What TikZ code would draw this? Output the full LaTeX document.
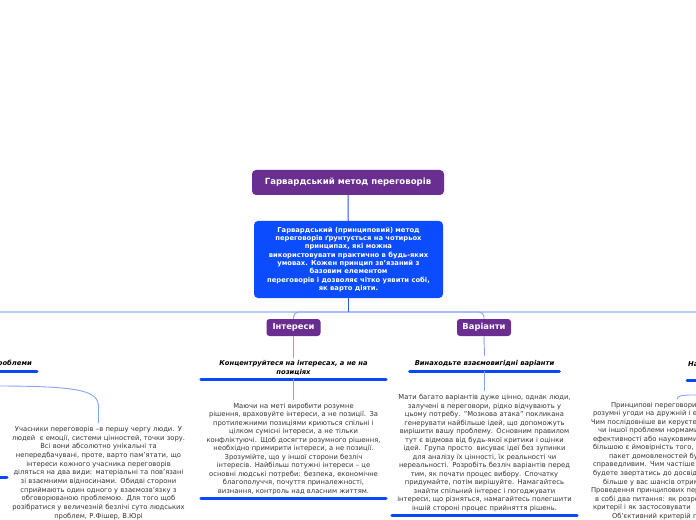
\documentclass[tikz,border=0pt]{standalone}
\usepackage{fontspec}
\setmainfont{DejaVu Sans}
\usetikzlibrary{calc}
\definecolor{purp}{HTML}{6A2D90}
\definecolor{boxblue}{HTML}{0B4CFF}
\definecolor{ulcol}{HTML}{0A48FF}
\definecolor{buscol}{HTML}{BACBFF}
\definecolor{conncol}{HTML}{86A3FF}
\definecolor{stemcol}{HTML}{2258FF}
\definecolor{bodycol}{HTML}{333333}
\tikzset{
  hdr/.style={fill=purp, rounded corners=4bp, text=white, font=\bfseries\fontsize{8.6}{10}\selectfont, minimum width=192bp, minimum height=25bp, inner sep=0},
  infobox/.style={fill=boxblue, rounded corners=4bp, text=white, font=\bfseries\fontsize{6.8}{8.3}\selectfont, align=center, minimum width=189bp, minimum height=77bp, inner sep=0},
  tag/.style={fill=purp, rounded corners=3bp, text=white, font=\bfseries\fontsize{8.4}{10}\selectfont, minimum width=54bp, minimum height=17bp, inner sep=0},
  lbl/.style={font=\bfseries\itshape\fontsize{6.8}{9}\selectfont, text=black, align=center},
  bodytxt/.style={font=\fontsize{6.8}{8.55}\selectfont, text=bodycol, inner xsep=0, inner ysep=3bp},
  uln/.style={draw=ulcol, line width=3bp, line cap=round},
  conn/.style={draw=conncol, line width=0.9bp},
  stem/.style={draw=stemcol, line width=1bp},
  busline/.style={draw=buscol, line width=1.6bp}
}
\begin{document}
\begin{tikzpicture}[x=1bp,y=-1bp]
\clip (0,0) rectangle (696,520);
% central nodes
\node[hdr] (t) at (348,182.5) {Гарвардський метод переговорів};
\node[infobox] (b) at (348.5,259.5) {Гарвардський (принциповий) метод\\переговорів ґрунтується на чотирьох\\принципах, які можна\\використовувати практично в будь-яких\\умовах. Кожен принцип зв'язаний з\\базовим елементом\\переговорів і дозволяє чітко уявити собі,\\як варто діяти.};
\draw[stem] (t) -- (b);
% bus
\coordinate (busL) at (-5,312);
\coordinate (busR) at (701,312);
\draw[busline] (busL) -- (busR);
\draw[stem] (b.south) -- (b.south |- busL);
% tags
\node[tag] (int) at (293.5,327.5) {Інтереси};
\node[tag] (var) at (484,327.5) {Варіанти};
\draw[conn, rounded corners=5bp] (b.south |- busL) -| (int.north);
\draw[conn, rounded corners=5bp] (b.south |- busL) -| (var.north);
% Interests branch
\node[lbl, text width=185bp, inner xsep=0, inner ysep=3bp, anchor=south] (intl) at (293.5,379) {Концентруйтеся на інтересах, а не на\\позиціях};
\draw[conn] (int.south) -- (intl.north);
\draw[uln] (intl.south west) -- (intl.south east);
\node[bodytxt, align=center, text width=185bp, anchor=south] (intb) at (293.5,498) {Маючи на меті виробити розумне\\рішення, враховуйте інтереси, а не позиції. За\\протилежними позиціями криються спільні і\\цілком сумісні інтереси, а не тільки\\конфліктуючі. Щоб досягти розумного рішення,\\необхідно примирити інтереси, а не позиції.\\Зрозумійте, що у іншої сторони безліч\\інтересів. Найбільш потужні інтереси – це\\основні людські потреби: безпека, економічне\\благополуччя, почуття приналежності,\\визнання, контроль над власним життям.};
\draw[conn] (intl.south) -- (intb.north);
\draw[uln] (intb.south west) -- (intb.south east);
% Options branch
\node[lbl, inner xsep=5bp, inner ysep=4bp, anchor=south] (varl) at (484.5,371) {Винаходьте взаємовигідні варіанти};
\draw[conn] (var.south) -- (varl.north);
\draw[uln] (varl.south west) -- (varl.south east);
\node[bodytxt, align=center, text width=185bp, anchor=south] (varb) at (484.5,515) {Мати багато варіантів дуже цінно, однак люди,\\залучені в переговори, рідко відчувають у\\цьому потребу. "Мозкова атака" покликана\\генерувати найбільше ідей, що допоможуть\\вирішити вашу проблему. Основним правилом\\тут є відмова від будь-якої критики і оцінки\\ідей. Група просто~ висуває ідеї без зупинки\\для аналізу їх цінності, їх реальності чи\\нереальності. Розробіть безліч варіантів перед\\тим, як почати процес вибору. Спочатку\\придумайте, потім вирішуйте. Намагайтесь\\знайти спільний інтерес і погоджувати\\інтереси, що різняться, намагайтесь полегшити\\іншій стороні процес прийняття рішень.};
\draw[conn] (varl.south) -- (varb.north);
\draw[uln] (varb.south west) -- (varb.south east);
% Left branch (people)
\node[lbl, inner xsep=5bp, inner ysep=4bp, anchor=south east] (ll) at (37,371) {Відокремлюйте людей від проблеми};
\draw[uln] (ll.south west) -- (ll.south east);
\node[bodytxt, align=center, text width=185bp, anchor=north, font=\fontsize{6.8}{8.7}\selectfont] (lb) at (98.5,423) {Учасники переговорів –в першу чергу люди. У\\людей~ є емоції, системи цінностей, точки зору.\\Всі вони абсолютно унікальні та\\непередбачувані, проте, варто пам'ятати, що\\інтереси кожного учасника переговорів\\діляться на два види: матеріальні та пов'язані\\зі взаємними відносинами. Обидві сторони\\сприймають один одного у взаємозв'язку з\\обговорюваною проблемою. Для того щоб\\розібратися у величезній безлічі суто людських\\проблем, Р.Фішер, В.Юрі};
\coordinate (lc) at (-5,386);
\draw[conn] (lc) .. controls (82,386) and ($(lb.north)+(0,-32)$) .. ($(lb.north)+(0,-16)$) -- (lb.north);
\coordinate (lx1) at (-10,477);
\coordinate (lx2) at (7,477);
\draw[uln] (lx1) -- (lx2);
% Right branch (criteria)
\node[lbl, inner xsep=1bp, inner ysep=3bp, anchor=south west] (rl) at (687,380) {Наполягайте на використанні\\об'єктивних критеріїв};
\draw[uln] (rl.south west) -- (rl.south east);
\node[bodytxt, align=left, text width=185bp, anchor=north] (rb) at (677,399) {\hspace*{26.5bp}Принципові переговори дозволяють\\\hspace*{8.5bp}розумні угоди на дружній і ефективній\\\hspace*{6.5bp}Чим послідовніше ви керуєтесь\\\hspace*{13.5bp}чи іншої проблеми нормами\\\hspace*{8.5bp}ефективності або науковими\\\hspace*{8.5bp}більшою є ймовірність того, що\\\hspace*{24.5bp}пакет домовленостей буде\\\hspace*{8.5bp}справедливим. Чим частіше\\\hspace*{8.5bp}будете звертатись до досвіду\\\hspace*{18.5bp}більше у вас шансів отримати\\\hspace*{6.5bp}Проведення принципових переговорів\\\hspace*{10.5bp}в собі два питання: як розробити\\\hspace*{8.5bp}критерії і як застосовувати\\\hspace*{27.5bp}Об'єктивний критерій повинен};
\coordinate (rc) at (701,395);
\draw[conn] (rb.north) .. controls ($(rb.north)+(0,-3)$) and (682,395) .. (692,395) -- (rc);
\end{tikzpicture}
\end{document}
